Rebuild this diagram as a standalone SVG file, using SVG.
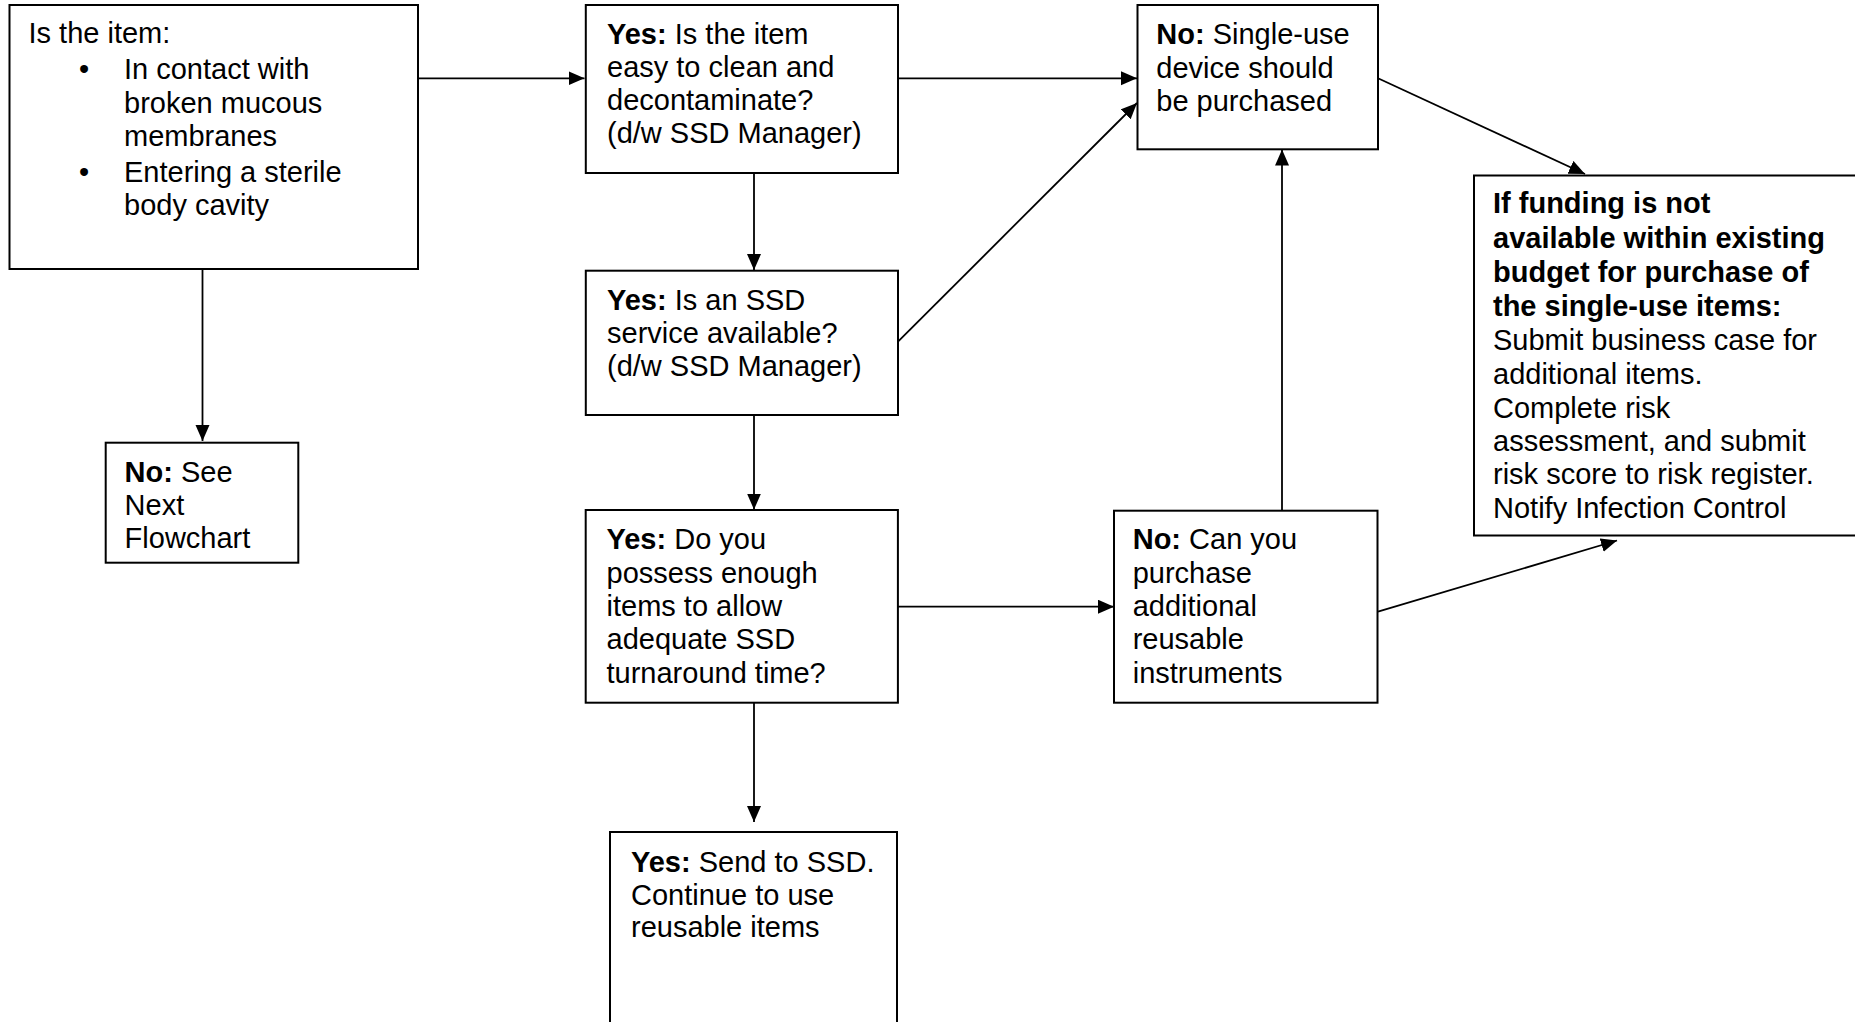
<svg xmlns="http://www.w3.org/2000/svg" width="1855" height="1022" viewBox="0 0 1855 1022">
<style>
  .box { fill: #ffffff; stroke: #000000; stroke-width: 2; }
  .t { font-family: "Liberation Sans", Arial, sans-serif; font-size: 29px; fill: #000000; }
  .b { font-weight: bold; }
  .conn line { stroke: #000000; stroke-width: 1.8; marker-end: url(#arrow); }
</style>
<defs>
  <marker id="arrow" markerUnits="userSpaceOnUse" markerWidth="17" markerHeight="15" refX="16" refY="7" orient="auto">
    <path d="M0,0 L16,7 L0,14 z" fill="#000000"/>
  </marker>
</defs>
<rect width="1855" height="1022" fill="#ffffff"/>

<g id="connectors" class="conn">
  <line x1="418" y1="78.3" x2="584.5" y2="78.3"/>
  <line x1="202.5" y1="269" x2="202.5" y2="441"/>
  <line x1="754" y1="173" x2="754" y2="270"/>
  <line x1="898" y1="78.3" x2="1137" y2="78.3"/>
  <line x1="898" y1="341.7" x2="1137" y2="103"/>
  <line x1="754" y1="415" x2="754" y2="509.5"/>
  <line x1="898" y1="606.7" x2="1114" y2="606.7"/>
  <line x1="754" y1="703" x2="754" y2="822"/>
  <line x1="1282" y1="510.7" x2="1282" y2="149.5"/>
  <line x1="1378" y1="78.3" x2="1585" y2="174"/>
  <line x1="1378" y1="611.7" x2="1617" y2="540.5"/>
</g>

<g id="node-item">
  <rect class="box" x="9.5" y="5" width="408.5" height="264"/>
  <text class="t" x="28.5" y="43">Is the item:</text>
  <text class="t" x="79" y="79">•</text>
  <text class="t" x="124" y="79">In contact with</text>
  <text class="t" x="124" y="112.5">broken mucous</text>
  <text class="t" x="124" y="146">membranes</text>
  <text class="t" x="79" y="181.5">•</text>
  <text class="t" x="124" y="181.5">Entering a sterile</text>
  <text class="t" x="124" y="215">body cavity</text>
</g>

<g id="node-next-flowchart">
  <rect class="box" x="105.7" y="442.7" width="192.6" height="120"/>
  <text class="t" x="124.6" y="481.7"><tspan class="b">No:</tspan> See</text>
  <text class="t" x="124.6" y="515">Next</text>
  <text class="t" x="124.6" y="547.7">Flowchart</text>
</g>

<g id="node-easy-clean">
  <rect class="box" x="585.8" y="5" width="312.2" height="168"/>
  <text class="t" x="607" y="44"><tspan class="b">Yes:</tspan> Is the item</text>
  <text class="t" x="607" y="77.3">easy to clean and</text>
  <text class="t" x="607" y="110.3">decontaminate?</text>
  <text class="t" x="607" y="143.3">(d/w SSD Manager)</text>
</g>

<g id="node-ssd-service">
  <rect class="box" x="585.8" y="270.7" width="312.2" height="144.3"/>
  <text class="t" x="607" y="310"><tspan class="b">Yes:</tspan> Is an SSD</text>
  <text class="t" x="607" y="343.3">service available?</text>
  <text class="t" x="607" y="376.3">(d/w SSD Manager)</text>
</g>

<g id="node-enough-items">
  <rect class="box" x="585.7" y="510" width="312.2" height="192.7"/>
  <text class="t" x="606.5" y="549.3"><tspan class="b">Yes:</tspan> Do you</text>
  <text class="t" x="606.5" y="582.7">possess enough</text>
  <text class="t" x="606.5" y="616">items to allow</text>
  <text class="t" x="606.5" y="649.3">adequate SSD</text>
  <text class="t" x="606.5" y="682.7">turnaround time?</text>
</g>

<g id="node-send-ssd">
  <rect class="box" x="610" y="832" width="287" height="230"/>
  <text class="t" x="631" y="872.3"><tspan class="b">Yes:</tspan> Send to SSD.</text>
  <text class="t" x="631" y="904.5">Continue to use</text>
  <text class="t" x="631" y="937.3">reusable items</text>
</g>

<g id="node-single-use">
  <rect class="box" x="1137.5" y="5" width="240.5" height="144.3"/>
  <text class="t" x="1156.3" y="43.6"><tspan class="b">No:</tspan> Single-use</text>
  <text class="t" x="1156.3" y="77.9">device should</text>
  <text class="t" x="1156.3" y="110.7">be purchased</text>
</g>

<g id="node-purchase-reusable">
  <rect class="box" x="1114" y="510.7" width="263.5" height="192"/>
  <text class="t" x="1132.7" y="549.3"><tspan class="b">No:</tspan> Can you</text>
  <text class="t" x="1132.7" y="582.7">purchase</text>
  <text class="t" x="1132.7" y="616">additional</text>
  <text class="t" x="1132.7" y="649.3">reusable</text>
  <text class="t" x="1132.7" y="682.7">instruments</text>
</g>

<g id="node-funding">
  <rect class="box" x="1474" y="175.5" width="400" height="360"/>
  <text class="t b" x="1493" y="213.2">If funding is not</text>
  <text class="t b" x="1493" y="248.2">available within existing</text>
  <text class="t b" x="1493" y="282">budget for purchase of</text>
  <text class="t b" x="1493" y="316">the single-use items:</text>
  <text class="t" x="1493" y="350">Submit business case for</text>
  <text class="t" x="1493" y="384">additional items.</text>
  <text class="t" x="1493" y="418">Complete risk</text>
  <text class="t" x="1493" y="450.7">assessment, and submit</text>
  <text class="t" x="1493" y="484">risk score to risk register.</text>
  <text class="t" x="1493" y="518">Notify Infection Control</text>
</g>
</svg>
